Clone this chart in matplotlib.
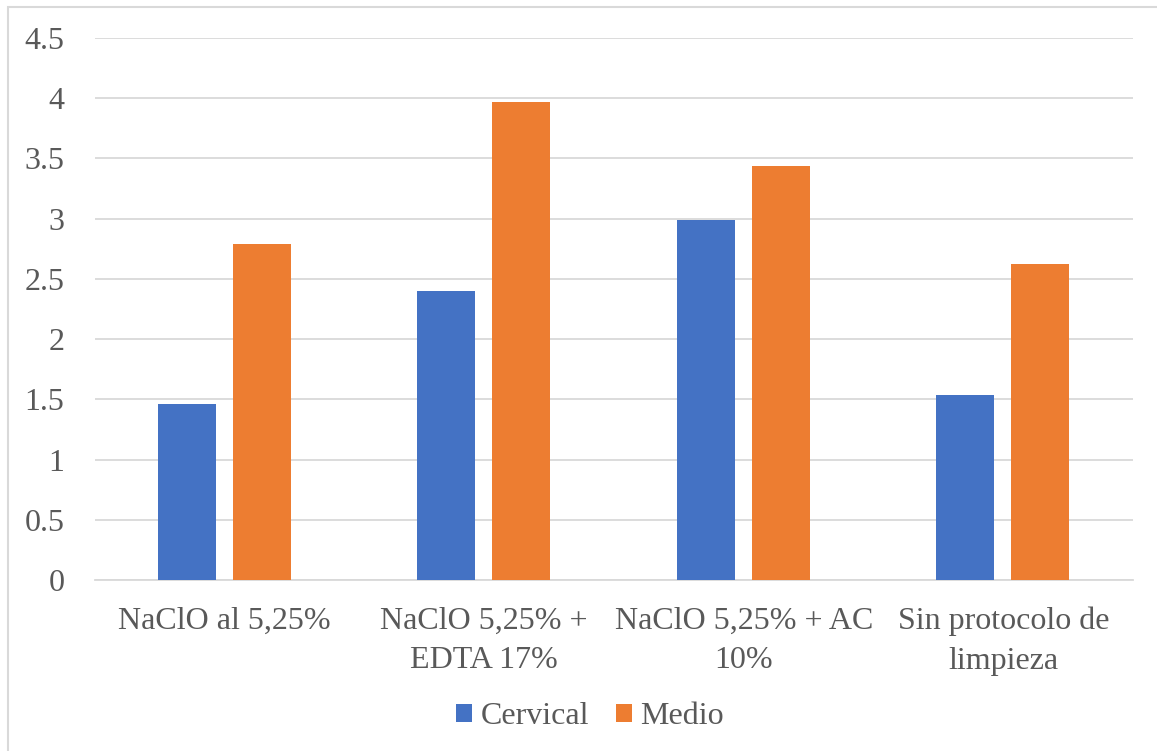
import matplotlib.pyplot as plt
import numpy as np
from matplotlib.patches import Rectangle

categories = ['NaClO al 5,25%', 'NaClO 5,25% +\nEDTA 17%', 'NaClO 5,25% + AC\n10%', 'Sin protocolo de\nlimpieza']
cervical = [1.46, 2.40, 2.99, 1.54]
medio = [2.79, 3.97, 3.44, 2.62]
yticks = [0, 0.5, 1, 1.5, 2, 2.5, 3, 3.5, 4, 4.5]
ytick_labels = ['0', '0.5', '1', '1.5', '2', '2.5', '3', '3.5', '4', '4.5']

plt.rcParams['font.family'] = ['Liberation Serif', 'DejaVu Serif']
text_color = '#595959'
grid_color = '#d9d9d9'

fig = plt.figure(figsize=(11.57, 7.51), dpi=100)
ax = fig.add_axes([95 / 1157, 171 / 751, 1038 / 1157, 542 / 751])

# chart frame (right and bottom edges run off the canvas)
fig.patches.append(Rectangle((8 / 1157, -0.05), 1.1, 1 - 6.5 / 751 + 0.05, transform=fig.transFigure,
                             fill=False, edgecolor=grid_color, linewidth=1.5))

x = np.arange(len(categories))
width = 0.224
ax.bar(x - 0.147, cervical, width, color='#4472C4', label='Cervical', zorder=3)
ax.bar(x + 0.143, medio, width, color='#ED7D31', label='Medio', zorder=3)

ax.set_xlim(-0.5, len(categories) - 0.5)
ax.set_ylim(0, 4.5)
ax.set_yticks(yticks)
ax.set_yticklabels(ytick_labels)
ax.set_xticks(x)
ax.set_xticklabels(categories, linespacing=1.5)
ax.tick_params(axis='both', length=0, colors=text_color, labelsize=23)
ax.tick_params(axis='y', pad=22)
ax.tick_params(axis='x', pad=19)

ax.grid(axis='y', color=grid_color, linewidth=1.3, zorder=0)
for side in ['top', 'right', 'left']:
    ax.spines[side].set_visible(False)
ax.spines['bottom'].set_color(grid_color)
ax.spines['bottom'].set_linewidth(1.3)

fig.legend(loc='center', bbox_to_anchor=(590 / 1157, 1 - 717 / 751), ncol=2, frameon=False,
           fontsize=23, labelcolor=text_color, handlelength=0.5, handleheight=0.5,
           handletextpad=0.25, columnspacing=0.85)

fig.savefig('out.png', dpi=100)
